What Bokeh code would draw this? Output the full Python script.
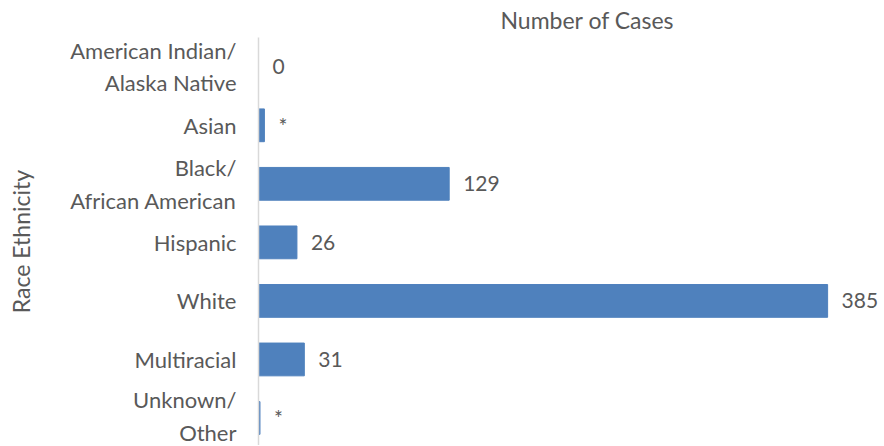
from bokeh.plotting import figure
from bokeh.models import Range1d, FixedTicker, ColumnDataSource, LabelSet
from bokeh.core.properties import value
from bokeh.embed import file_html
from bokeh.resources import INLINE

categories = ["American Indian/\nAlaska Native", "Asian", "Black/\nAfrican American",
              "Hispanic", "White", "Multiracial", "Unknown/\nOther"]
cases = [0, 4, 129, 26, 385, 31, 1]
value_labels = ["0", "*", "129", "26", "385", "31", "*"]

FONT = "Lato"
TEXT = "#595959"
BAR = "#4f81bd"

idx = list(range(len(categories)))
src = ColumnDataSource(dict(y=idx, v=cases, lab=value_labels))

p = figure(width=883, height=445, output_backend="svg", toolbar_location=None,
           x_range=Range1d(0, 422.8), y_range=Range1d(6.47, -0.5),
           min_border_left=258, min_border_right=0, min_border_top=37, min_border_bottom=0,
           title="Number of Cases")
p.outline_line_color = None
p.background_fill_color = "white"
p.border_fill_color = "white"
p.title.align = "left"
p.title.offset = 242
p.title.standoff = 7
p.title.text_font = FONT
p.title.text_font_size = "23px"
p.title.text_font_style = "normal"
p.title.text_color = TEXT

p.hbar(y="y", right="v", left=0, height=0.56, source=src, color=BAR)

labels = LabelSet(x="v", y="y", text="lab", source=src, x_offset=14,
                  text_baseline="middle", text_font=value(FONT), text_font_size="21px",
                  text_color=TEXT)
p.add_layout(labels)

p.xaxis.visible = False
p.xgrid.visible = False
p.ygrid.visible = False
ax = p.yaxis[0]
ax.ticker = FixedTicker(ticks=idx)
ax.major_label_overrides = {i: c for i, c in zip(idx, categories)}
ax.major_tick_line_color = None
ax.minor_tick_line_color = None
ax.axis_line_color = "#d9d9d9"
ax.axis_line_width = 1.5
ax.major_label_text_font = FONT
ax.major_label_text_font_size = "22px"
ax.major_label_text_color = TEXT
ax.major_label_standoff = 16
ax.axis_label = "Race Ethnicity"
ax.axis_label_text_font = FONT
ax.axis_label_text_font_size = "23px"
ax.axis_label_text_font_style = "normal"
ax.axis_label_text_color = TEXT
ax.axis_label_standoff = 32

open("out.html", "w").write(file_html(p, INLINE))
